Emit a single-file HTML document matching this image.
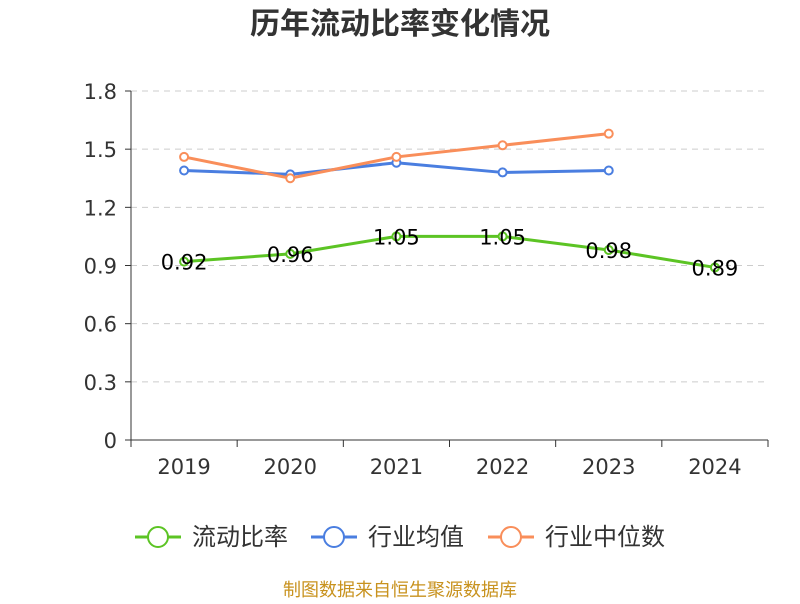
<!DOCTYPE html>
<html><head><meta charset="utf-8"><style>
body{margin:0;background:#fff;width:800px;height:600px;overflow:hidden;font-family:"DejaVu Sans","Noto Sans CJK SC",sans-serif}
</style></head><body>
<svg id="c" width="800" height="600" xmlns="http://www.w3.org/2000/svg"></svg>
<script>
const categories=["2019","2020","2021","2022","2023","2024"];
const currentRatio=[0.92,0.96,1.05,1.05,0.98,0.89];
const industryAvg=[1.39,1.37,1.43,1.38,1.39,null];
const industryMedian=[1.46,1.35,1.46,1.52,1.58,null];
const yTicks=[0,0.3,0.6,0.9,1.2,1.5,1.8];
const yTickLabels=["0","0.3","0.6","0.9","1.2","1.5","1.8"];
const legendNames=["流动比率","行业均值","行业中位数"];

const svg=document.getElementById('c');const NS="http://www.w3.org/2000/svg";
const L=131,R=768,T=91,B=440;
const bw=(R-L)/categories.length;
const x=i=>L+bw*(i+0.5);
const y=v=>B-(v/1.8)*(B-T);
function el(t,a,p){const e=document.createElementNS(NS,t);for(const k in a)e.setAttribute(k,a[k]);(p||svg).appendChild(e);return e;}
function txt(s,a){const e=el('text',a);e.textContent=s;return e;}

let t=txt("历年流动比率变化情况",{x:400,y:34,'text-anchor':'middle','font-size':30,'font-weight':'bold',fill:'#333'});



yTicks.forEach((v,i)=>{
  if(v>0){const g=el('line',{x1:L,x2:R,y1:y(v),y2:y(v),stroke:'#ccc','stroke-dasharray':'6,5'});
  
  }
  el('line',{x1:L-6,x2:L,y1:y(v),y2:y(v),stroke:'#333'});
  const l=txt(yTickLabels[i],{x:L-14,y:y(v)+8,'text-anchor':'end','font-size':21,fill:'#333'});
  
  
});
let ya=el('line',{x1:L,x2:L,y1:T,y2:B,stroke:'#333'});


let xa=el('line',{x1:L,x2:R,y1:B,y2:B,stroke:'#333'});


for(let i=0;i<=categories.length;i++)el('line',{x1:L+bw*i,x2:L+bw*i,y1:B,y2:B+7,stroke:'#333'});
categories.forEach((c,i)=>{const l=txt(c,{x:x(i),y:474,'text-anchor':'middle','font-size':21,fill:'#333'});

});

function series(data,color,name,labels){
  const pts=data.map((v,i)=>v==null?null:[x(i),y(v)]).filter(p=>p);
  const p=el('polyline',{points:pts.map(p=>p.join(',')).join(' '),fill:'none',stroke:color,'stroke-width':3});
  
  
  data.forEach((v,i)=>{if(v==null)return;
    const c=el('circle',{cx:x(i),cy:y(v),r:4,fill:'#fff',stroke:color,'stroke-width':2});
    
    
    if(labels){const l=txt(v.toFixed(2),{x:x(i),y:y(v)+8,'text-anchor':'middle','font-size':21,fill:'#000'});
      
      }
  });
}
series(industryAvg,'#4a7ee0','industry-avg',false);
series(industryMedian,'#f98e5a','industry-median',false);
series(currentRatio,'#5cc424','current-ratio',true);

const lx=[135,311,488],colors=['#5cc424','#4a7ee0','#f98e5a'];
legendNames.forEach((n,i)=>{
  el('line',{x1:lx[i],x2:lx[i]+46,y1:537,y2:537,stroke:colors[i],'stroke-width':3});
  const c=el('circle',{cx:lx[i]+23,cy:537,r:10,fill:'#fff',stroke:colors[i],'stroke-width':2});
  
  
  const l=txt(n,{x:lx[i]+57,y:545,'font-size':24,fill:'#333'});
  
  
});
let s=txt("制图数据来自恒生聚源数据库",{x:400,y:596,'text-anchor':'middle','font-size':18,fill:'#c8921e'});


</script>
</body></html>
